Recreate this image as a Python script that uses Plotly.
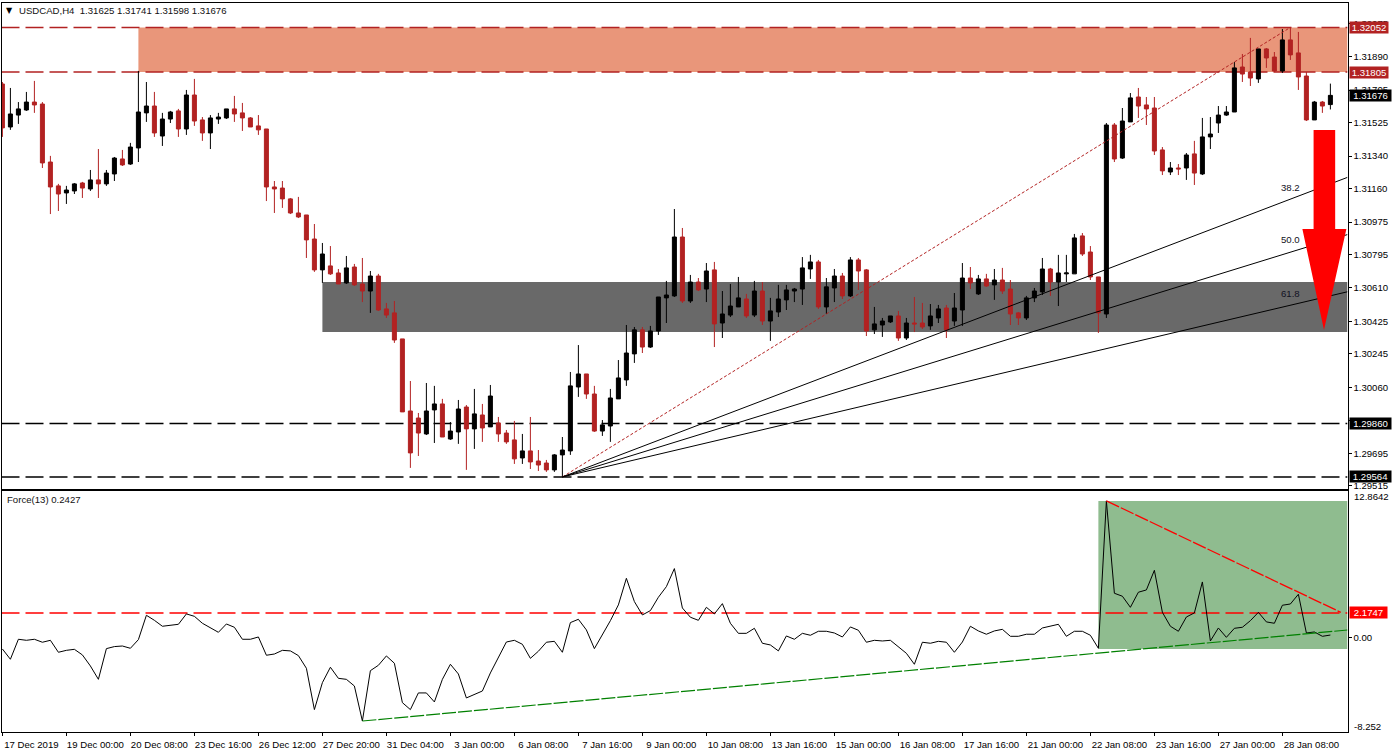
import plotly.graph_objects as go

W, H = 1394, 753

# ---------- price data, in points (1e-5 of a CAD) ----------
opens_pts = [131739,131501,131567,131595,131639,131628,131307,131175,131136,131147,131191,131158,131208,131186,131241,131324,131296,131385,131579,131617,
131451,131545,131590,131490,131678,131540,131468,131545,131551,131601,131579,131551,131507,131490,131169,131163,131103,131025,131014,130881,
130710,130732,130693,130638,130726,130632,130593,130676,130494,130472,130328,129929,129890,129802,129935,129968,129774,129813,129951,129830,
129907,129841,129863,129807,129769,129669,129708,129652,129641,129603,129686,129708,130062,130134,130023,129818,129846,129996,130101,130245,
130378,130283,130372,130555,130566,130892,130538,130643,130604,130710,130416,130460,130505,130549,130460,130593,130427,130477,130544,130593,
130604,130715,130754,130505,130610,130676,130566,130765,130710,130378,130405,130422,130455,130333,130416,130416,130400,130444,130499,130427,
130488,130665,130577,130660,130627,130654,130604,130472,130444,130555,130588,130715,130643,130688,130688,130898,130809,130671,130466,131512,
131329,131529,131667,131623,131606,131374,131252,131274,131274,131352,131241,131446,131523,131567,131584,131833,131805,131767,131933,131888,
131811,131983,131911,131783,131540,131639,131625]
highs_pts = [131750,131717,131639,131695,131756,131639,131341,131186,131175,131191,131197,131263,131379,131263,131335,131374,131413,131811,131750,131695,
131579,131590,131601,131706,131767,131556,131567,131579,131601,131673,131634,131556,131567,131490,131202,131202,131108,131114,131014,130964,
130859,130842,130715,130787,130743,130776,130704,130688,130527,130538,130328,130095,129918,130084,130068,129996,129868,129990,129962,130051,
129968,130073,129896,129824,129874,129802,129896,129713,129658,129691,129785,130145,130294,130134,130068,129879,130051,130211,130405,130394,
130394,130400,130560,130649,131047,130942,130682,130665,130748,130754,130593,130632,130671,130577,130649,130643,130555,130627,130627,130610,
130781,130793,130765,130665,130715,130693,130781,130776,130715,130505,130444,130455,130483,130444,130560,130527,130521,130516,130516,130582,
130748,130726,130682,130688,130715,130721,130654,130477,130566,130610,130776,130721,130793,130793,130909,130914,130842,130671,131523,131523,
131606,131689,131717,131667,131667,131390,131307,131296,131357,131424,131551,131556,131617,131617,131861,131905,131994,131933,131938,131916,
132043,132052,132027,131805,131645,131645,131741]
lows_pts = [131446,131485,131518,131590,131579,131274,131019,131036,131075,131130,131108,131147,131108,131175,131202,131285,131291,131307,131529,131446,
131396,131523,131446,131457,131507,131424,131379,131518,131545,131529,131479,131501,131457,131091,131025,131053,131019,130997,130776,130699,
130638,130682,130632,130632,130621,130532,130472,130483,130444,130306,129924,129614,129680,129796,129752,129785,129769,129747,129603,129719,
129758,129841,129758,129747,129636,129636,129608,129597,129592,129592,129564,129686,130007,129996,129813,129791,129758,129996,130068,130195,
130250,130278,130350,130416,130560,130527,130527,130593,130532,130283,130333,130449,130505,130444,130449,130405,130317,130449,130488,130532,
130516,130660,130494,130466,130532,130549,130560,130599,130344,130355,130339,130416,130317,130322,130366,130383,130378,130416,130333,130400,
130400,130604,130571,130616,130544,130577,130405,130405,130433,130532,130571,130566,130510,130643,130688,130787,130654,130361,130444,131307,
131324,131529,131551,131512,131346,131235,131235,131235,131208,131180,131235,131379,131468,131562,131584,131750,131728,131745,131828,131805,
131800,131872,131706,131534,131540,131579,131598]
closes_pts = [131496,131573,131601,131639,131623,131302,131169,131130,131152,131186,131163,131208,131186,131246,131329,131291,131390,131584,131617,131468,
131545,131584,131490,131678,131534,131468,131551,131556,131601,131573,131551,131501,131485,131169,131158,131103,131025,131003,130876,130710,
130798,130688,130632,130721,130627,130593,130676,130488,130460,130322,129924,129697,129807,129929,129968,129785,129818,129940,129830,129913,
129835,130012,129802,129758,129664,129708,129647,129630,129603,129686,129713,130068,130134,130023,129818,129852,130001,130112,130250,130378,
130283,130372,130560,130571,130892,130538,130643,130599,130704,130411,130466,130510,130555,130455,130593,130427,130483,130549,130599,130604,
130721,130754,130505,130616,130676,130566,130765,130704,130372,130411,130427,130455,130333,130416,130411,130394,130455,130494,130378,130499,
130665,130638,130660,130621,130654,130593,130466,130444,130555,130593,130715,130643,130693,130693,130887,130798,130671,130472,131512,131324,
131534,131662,131617,131601,131368,131258,131274,131269,131346,131246,131446,131462,131567,131584,131828,131794,131772,131933,131883,131811,
131983,131900,131778,131540,131639,131617,131676]

# ---------- Force(13) ----------
force = [-0.98,-1.88,-0.13,-0.22,-0.13,-0.39,-0.22,-1.27,-1.10,-1.01,-1.50,-2.47,-3.64,-0.95,-0.77,-0.72,-0.92,-0.16,1.97,1.53,
1.01,1.09,1.18,2.09,1.88,1.27,0.86,0.48,1.21,0.92,-0.13,-0.13,0.07,-1.53,-1.42,-1.10,-1.15,-1.56,-2.67,-6.29,
-3.93,-2.58,-3.55,-3.64,-4.22,-7.29,-2.88,-2.41,-1.59,-2.23,-5.68,-6.29,-4.83,-4.83,-5.62,-3.64,-2.32,-3.17,-5.27,-4.95,
-4.66,-3.08,-1.74,-0.37,-0.22,-0.57,-1.80,-1.18,-0.39,-0.31,-1.27,1.33,1.62,0.69,-0.95,0.25,1.50,2.88,5.21,3.17,
2.00,2.38,3.55,4.48,6.06,2.61,1.80,1.53,2.67,2.09,2.99,1.27,0.39,0.39,0.83,-0.48,-0.63,-1.15,0.16,-0.13,
0.39,0.22,0.57,0.57,0.42,0.07,0.95,0.66,-0.39,-0.22,-0.28,-0.22,-0.83,-1.36,-2.32,-0.39,-0.48,-0.31,-0.39,-1.27,
-0.37,1.01,0.60,0.31,0.60,0.74,0.13,0.13,0.31,0.31,0.86,1.04,1.18,0.13,0.57,0.57,0.22,-0.92,11.99,3.90,
3.64,2.67,3.99,4.19,5.91,2.23,1.01,0.57,1.82,2.18,4.89,-0.28,0.86,0.04,0.83,0.92,1.50,2.23,1.39,1.27,
2.85,2.96,3.81,0.42,0.51,0.13,0.24]

# ---------- axis labels ----------
tick_bars = list(range(0, 161, 8))
tick_dates = ["17 Dec 2019","19 Dec 00:00","20 Dec 08:00","23 Dec 16:00","26 Dec 12:00","27 Dec 20:00","31 Dec 04:00",
              "3 Jan 00:00","6 Jan 08:00","7 Jan 16:00","9 Jan 00:00","10 Jan 08:00","13 Jan 16:00","15 Jan 00:00",
              "16 Jan 08:00","17 Jan 16:00","21 Jan 00:00","22 Jan 08:00","23 Jan 16:00","27 Jan 00:00","28 Jan 08:00"]
price_ticks = [1.32075,1.31890,1.31705,1.31525,1.31340,1.31160,1.30975,1.30795,1.30610,1.30425,1.30245,1.30060,1.29875,1.29695,1.29515]

# ---------- levels and analysis objects ----------
RES_HI, RES_LO = 1.32052, 1.31805
SUP_HI, SUP_LO = 1.30643, 1.30366
LEVEL_A, LEVEL_B = 1.29860, 1.29564
LAST = 1.31676
FORCE_LEVEL = 2.1747
FORCE_MAX, FORCE_MIN = 12.8642, -8.252
FAN_START, FAN_END = 70, 161
FIB = [38.2, 50.0, 61.8]
FIB_LABEL_Y = [1.31165, 1.30876, 1.30581]
ARROW_X = [163.9, 166.6, 166.6, 168.0, 165.2, 162.5, 163.9, 163.9]
ARROW_Y = [1.31484, 1.31484, 1.30937, 1.30937, 1.30377, 1.30937, 1.30937, 1.31484]
RED_TREND = ([138, 167.3], [11.99, 2.23])
GREEN_TREND = ([45, 168.14], [-7.29, 0.68])
GREEN_BOX = (137, -0.98, 11.99)

bars = list(range(len(opens_pts)))
XR = [-0.1125, 168.14]

BROWN, BLACK = "#b22222", "#000000"
FONT = "Liberation Sans, Arial, sans-serif"
FS = 9.6
DASH = "18px,6px"

fig = go.Figure()
fig.add_trace(go.Candlestick(
    x=bars,
    open=[v / 1e5 for v in opens_pts], high=[v / 1e5 for v in highs_pts],
    low=[v / 1e5 for v in lows_pts], close=[v / 1e5 for v in closes_pts],
    increasing=dict(line=dict(color=BLACK, width=1), fillcolor=BLACK),
    decreasing=dict(line=dict(color=BROWN, width=1), fillcolor=BROWN),
    whiskerwidth=0, xaxis="x", yaxis="y", name="USDCAD,H4"))

# Fibonacci fan and its base line
rise = RES_HI - LEVEL_B
slope = rise / (FAN_END - FAN_START)
fig.add_trace(go.Scatter(x=[FAN_START, FAN_END], y=[LEVEL_B, RES_HI], mode="lines", xaxis="x", yaxis="y",
                         line=dict(color=BROWN, width=1, dash="3px,2px"), name="base"))
for lv in FIB:
    k = (1 - lv / 100) * slope
    fig.add_trace(go.Scatter(x=[FAN_START, XR[1]], y=[LEVEL_B, LEVEL_B + k * (XR[1] - FAN_START)], mode="lines",
                             xaxis="x", yaxis="y", line=dict(color=BLACK, width=1), name=f"{lv}"))

fig.add_trace(go.Scatter(x=bars, y=force, mode="lines", xaxis="x2", yaxis="y2",
                         line=dict(color=BLACK, width=1), name="Force(13)"))
fig.add_trace(go.Scatter(x=RED_TREND[0], y=RED_TREND[1], mode="lines", xaxis="x2", yaxis="y2",
                         line=dict(color="#ff0000", width=1.3, dash="14px,2px"), name="res"))
fig.add_trace(go.Scatter(x=GREEN_TREND[0], y=GREEN_TREND[1], mode="lines", xaxis="x2", yaxis="y2",
                         line=dict(color="#008000", width=1.2, dash="14px,2px"), name="sup"))

def rect(x0, x1, y0, y1, color, xr="x", yr="y"):
    return dict(type="rect", layer="below", xref=xr, yref=yr, x0=x0, x1=x1, y0=y0, y1=y1,
                fillcolor=color, line=dict(width=0))

def hline(y, color, xr="x", yr="y"):
    return dict(type="line", layer="below", xref=xr, yref=yr, x0=XR[0], x1=XR[1], y0=y, y1=y,
                line=dict(color=color, width=1.4, dash=DASH))

arrow_path = "M " + " L ".join(f"{a},{b}" for a, b in zip(ARROW_X, ARROW_Y)) + " Z"
shapes = [
    rect(17, XR[1], RES_LO, RES_HI, "#e9967a"),
    rect(40, XR[1], SUP_LO, SUP_HI, "#696969"),
    hline(RES_HI, BROWN), hline(RES_LO, BROWN), hline(LEVEL_A, BLACK), hline(LEVEL_B, BLACK),
    rect(GREEN_BOX[0], XR[1], GREEN_BOX[1], GREEN_BOX[2], "#8fbc8f", "x2", "y2"),
    hline(FORCE_LEVEL, "#ff0000", "x2", "y2"),
    dict(type="path", layer="above", xref="x", yref="y", path=arrow_path, fillcolor="#ff0000", line=dict(width=0)),
]

def badge(text, y, bg, width, yr="y"):
    return dict(text=text, xref="paper", x=1349 / W, yref=yr, y=y, xanchor="left", yanchor="middle", showarrow=False,
                bgcolor=bg, width=width, height=11, align="center", borderpad=0,
                font=dict(family=FONT, size=FS, color="#ffffff"))

ann = [
    dict(text="▼", xref="paper", yref="paper", x=4 / W, y=1 - 11 / H, xanchor="left", yanchor="middle", showarrow=False,
         font=dict(family="DejaVu Sans", size=8, color=BLACK)),
    dict(text="USDCAD,H4  1.31625 1.31741 1.31598 1.31676", xref="paper", yref="paper", x=17 / W, y=1 - 11 / H,
         xanchor="left", yanchor="middle", showarrow=False, font=dict(family=FONT, size=FS, color="#111111")),
    dict(text="Force(13) 0.2427", xref="paper", yref="paper", x=5 / W, y=1 - 499 / H,
         xanchor="left", yanchor="middle", showarrow=False, font=dict(family=FONT, size=FS, color="#111111")),
    badge("1.32052", RES_HI, BROWN, 38), badge("1.31805", RES_LO, BROWN, 38), badge("1.31676", LAST, BLACK, 41),
    badge("1.29860", LEVEL_A, BLACK, 41), badge("1.29564", LEVEL_B, BLACK, 41),
    badge("2.1747", FORCE_LEVEL, "#ff0000", 37, "y2"),
    dict(text="12.8642", xref="paper", x=1352 / W, yref="y2", y=FORCE_MAX, yshift=-6, xanchor="left", yanchor="middle",
         showarrow=False, font=dict(family=FONT, size=FS, color=BLACK)),
    dict(text="-8.252", xref="paper", x=1352 / W, yref="y2", y=FORCE_MIN, yshift=6, xanchor="left", yanchor="middle",
         showarrow=False, font=dict(family=FONT, size=FS, color=BLACK)),
]
for lv, ly in zip(FIB, FIB_LABEL_Y):
    ann.append(dict(text=f"{lv:.1f}", xref="x", x=FAN_END, yref="y", y=ly, showarrow=False, xanchor="center", yanchor="middle",
                    font=dict(family=FONT, size=FS, color="#111122")))

axis_common = dict(showgrid=False, zeroline=False, showline=True, linecolor=BLACK, linewidth=1, mirror=True, automargin=False,
                   tickfont=dict(family=FONT, size=FS, color=BLACK), ticks="outside", ticklen=3, tickcolor=BLACK, tickwidth=1)

fig.update_layout(
    width=W, height=H, autosize=False, margin=dict(l=0, r=0, t=0, b=0, autoexpand=False),
    paper_bgcolor="#ffffff", plot_bgcolor="#ffffff", showlegend=False, boxgap=0.5, boxgroupgap=0,
    hovermode=False, shapes=shapes, annotations=ann,
    xaxis=dict(domain=[1.5 / W, 1347.5 / W], range=XR, rangeslider=dict(visible=False), showticklabels=False,
               **{**axis_common, "ticks": ""}, anchor="y"),
    yaxis=dict(domain=[1 - 488.5 / H, 1 - 2.5 / H], range=[1.29500, 1.32190], side="right", anchor="x",
               tickvals=price_ticks, tickformat=".5f", **axis_common),
    xaxis2=dict(domain=[1.5 / W, 1347.5 / W], range=XR, tickvals=tick_bars, ticktext=tick_dates, ticklabelshift=29, tickangle=0,
                anchor="y2", **axis_common),
    yaxis2=dict(domain=[1 - 732 / H, 1 - 490.5 / H], range=[FORCE_MIN, 12.90], side="right", anchor="x2",
                tickvals=[0], ticktext=["0.00"], **axis_common),
)

fig.write_html("out.html", config={"displayModeBar": False},
               post_script="document.body.style.margin='0';document.body.style.overflow='hidden';")
